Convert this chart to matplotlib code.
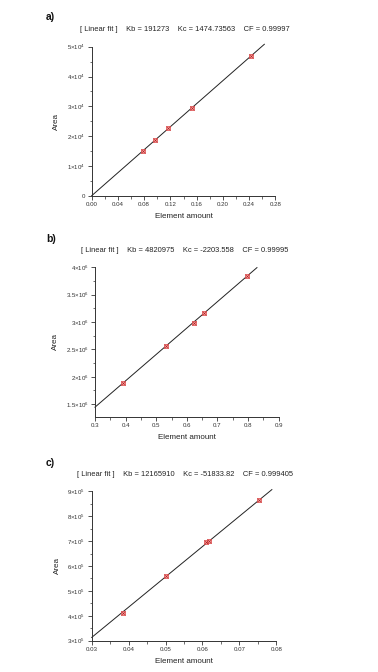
import matplotlib
matplotlib.use("Agg")
import matplotlib.pyplot as plt
import numpy as np
from matplotlib.ticker import MultipleLocator, FixedLocator

plt.rcParams['font.family'] = ['Liberation Sans', 'DejaVu Sans']
plt.rcParams['mathtext.fontset'] = 'custom'
plt.rcParams['mathtext.rm'] = 'Liberation Sans'
plt.rcParams['mathtext.it'] = 'Liberation Sans'

# ---- data ----
panel_letters = ["a)", "b)", "c)"]
titles = [
    "[ Linear fit ]    Kb = 191273    Kc = 1474.73563    CF = 0.99997",
    "[ Linear fit ]    Kb = 4820975    Kc = -2203.558    CF = 0.99995",
    "[ Linear fit ]    Kb = 12165910    Kc = -51833.82    CF = 0.999405",
]
x_a = [0.0778, 0.0961, 0.1164, 0.1525, 0.2425]
y_a = [1.50e4, 1.857e4, 2.27e4, 2.93e4, 4.676e4]
x_b = [0.391, 0.531, 0.622, 0.655, 0.797]
y_b = [1.89e6, 2.555e6, 2.988e6, 3.159e6, 3.835e6]
x_c = [0.0385, 0.0502, 0.0609, 0.0618, 0.0753]
y_c = [4.12e5, 5.60e5, 6.96e5, 7.00e5, 8.64e5]

fit_slope = [193000, 4820975, 12165910]
fit_intercept = [0.0, -2203.558, -51833.82]
fit_xrange = [(0.0, 0.2633), (0.3, 0.829), (0.03, 0.0788)]

xlims = [(0.0, 0.28), (0.3, 0.9), (0.03, 0.08)]
ylims = [(0.0, 5e4), (1.27e6, 4e6), (3e5, 9e5)]
xticks = [[0.00, 0.04, 0.08, 0.12, 0.16, 0.20, 0.24, 0.28],
          [0.3, 0.4, 0.5, 0.6, 0.7, 0.8, 0.9],
          [0.03, 0.04, 0.05, 0.06, 0.07, 0.08]]
xticklabels = [["0.00", "0.04", "0.08", "0.12", "0.16", "0.20", "0.24", "0.28"],
               ["0.3", "0.4", "0.5", "0.6", "0.7", "0.8", "0.9"],
               ["0.03", "0.04", "0.05", "0.06", "0.07", "0.08"]]
yticks = [[0, 1e4, 2e4, 3e4, 4e4, 5e4],
          [1.5e6, 2e6, 2.5e6, 3e6, 3.5e6, 4e6],
          [3e5, 4e5, 5e5, 6e5, 7e5, 8e5, 9e5]]
yticklabels = [["0", r"$1{\times}10^4$", r"$2{\times}10^4$", r"$3{\times}10^4$", r"$4{\times}10^4$", r"$5{\times}10^4$"],
               [r"$1.5{\times}10^6$", r"$2{\times}10^6$", r"$2.5{\times}10^6$", r"$3{\times}10^6$", r"$3.5{\times}10^6$", r"$4{\times}10^6$"],
               [r"$3{\times}10^5$", r"$4{\times}10^5$", r"$5{\times}10^5$", r"$6{\times}10^5$", r"$7{\times}10^5$", r"$8{\times}10^5$", r"$9{\times}10^5$"]]
x_minor = [0.02, 0.05, 0.005]
y_minor = [0.5e4, 0.25e6, 0.5e5]
xs = [x_a, x_b, x_c]
ys = [y_a, y_b, y_c]

# ---- layout ----
W, H = 378, 672
fig = plt.figure(figsize=(W / 100, H / 100), dpi=100)
boxes = [(91.7, 275.3, 46.7, 195.7), (95.0, 278.7, 267.3, 416.7), (91.7, 276.3, 491.3, 640.7)]
letter_y = [17, 239, 463]
title_y = [29.5, 250.5, 474.5]

for i in range(3):
    l, r, t, b = boxes[i]
    ax = fig.add_axes([l / W, (H - b) / H, (r - l) / W, (b - t) / H])
    x0, x1 = fit_xrange[i]
    lx = np.array([x0, x1])
    ax.plot(lx, fit_slope[i] * lx + fit_intercept[i], color='#222222', lw=0.7, zorder=2, clip_on=False)
    ax.plot(xs[i], ys[i], linestyle='none', marker='s', markersize=3.4,
            markerfacecolor='#f4a0a0', markeredgecolor='#e04848', markeredgewidth=0.5, zorder=3)
    ax.plot(xs[i], ys[i], linestyle='none', marker='x', markersize=2.2,
            color='#b02020', markeredgewidth=0.4, zorder=4)
    ax.set_xlim(*xlims[i])
    ax.set_ylim(*ylims[i])
    ax.xaxis.set_major_locator(FixedLocator(xticks[i]))
    ax.set_xticklabels(xticklabels[i])
    ax.yaxis.set_major_locator(FixedLocator(yticks[i]))
    ax.set_yticklabels(yticklabels[i])
    ax.xaxis.set_minor_locator(MultipleLocator(x_minor[i]))
    ax.yaxis.set_minor_locator(MultipleLocator(y_minor[i]))
    for s in ['top', 'right']:
        ax.spines[s].set_visible(False)
    for s in ['left', 'bottom']:
        ax.spines[s].set_linewidth(0.7)
        ax.spines[s].set_color('#333333')
    ax.tick_params(which='major', direction='out', length=3, width=0.6, labelsize=4.4,
                   colors='#333333', pad=1.5)
    ax.tick_params(which='minor', direction='out', length=1.8, width=0.5, colors='#333333')
    ax.set_xlabel("Element amount", fontsize=5.8, labelpad=4, color='#222222')
    ax.set_ylabel("Area", fontsize=5.8, labelpad=5, color='#222222')
    fig.text(46 / W, 1 - letter_y[i] / H, panel_letters[i], fontsize=7.5, fontweight='bold',
             va='center', ha='left', color='#111111')
    fig.text(185 / W, 1 - title_y[i] / H, titles[i], fontsize=5.4, va='center', ha='center',
             color='#222222')

fig.savefig("out.png", dpi=100)
